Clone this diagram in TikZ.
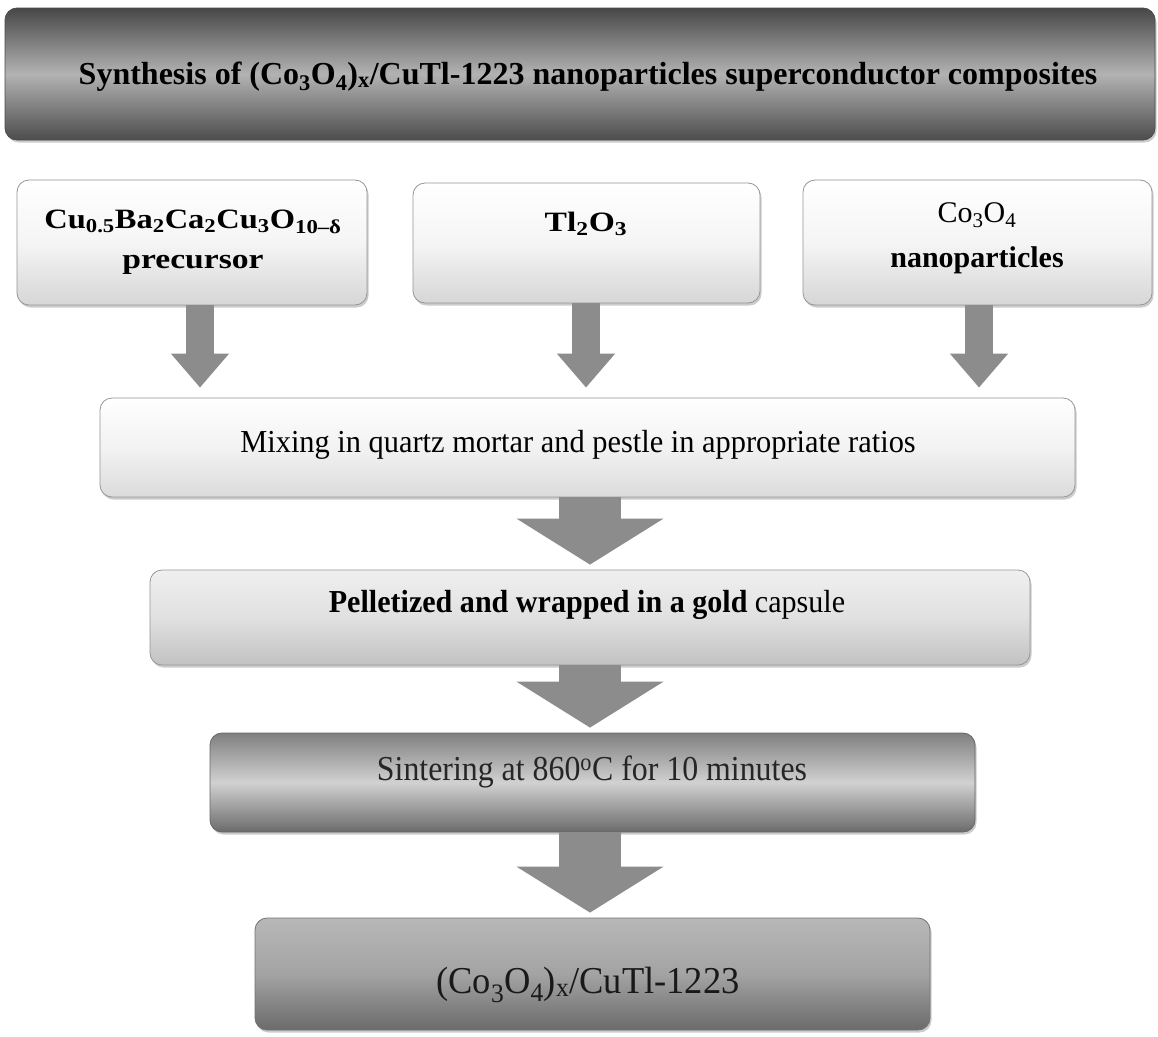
\documentclass[tikz,border=0pt]{standalone}
\usepackage{fontspec}
\setmainfont{Liberation Serif}
\usetikzlibrary{arrows.meta,shadows}
\definecolor{arrowgray}{RGB}{140,140,140}
\definecolor{edgegray}{RGB}{150,150,150}
\begin{document}
\begin{tikzpicture}[x=1pt,y=-1pt,
  box/.style={rounded corners=12pt, inner sep=0pt, draw=edgegray, line width=0.8pt,
    drop shadow={shadow xshift=1.5pt,shadow yshift=-2.5pt,fill=black!40}},
  lightbox/.style={box, top color=white, bottom color=black!16, middle color=black!4},
  mixbox/.style={box, top color=white, bottom color=black!14, middle color=black!5},
  pelbox/.style={box, top color=black!6, bottom color=black!24, middle color=black!12},
  titlebox/.style={box, draw=black!70, top color=black!72, bottom color=black!70, middle color=black!30},
  sinbox/.style={box, draw=black!60, top color=black!50, bottom color=black!58, middle color=black!18},
  finbox/.style={box, draw=black!55, top color=black!28, bottom color=black!58, middle color=black!36},
  txt/.style={inner sep=0pt, align=center, text=black},
  smallarrow/.style={draw=arrowgray, line width=28pt, -{Triangle[width=56pt,length=34pt]}, shorten >=10pt},
  bigarrow/.style={draw=arrowgray, line width=62pt, -{Triangle[width=145pt,length=46pt]}, shorten >=5pt}
]
\useasboundingbox[fill=white] (0,0) rectangle (1158,1036);

% boxes
\node[titlebox, minimum width=1150pt, minimum height=132pt] (title) at (580,74) {};
\node[lightbox, minimum width=350pt, minimum height=125pt] (prec) at (192,242.5) {};
\node[lightbox, minimum width=347pt, minimum height=120pt] (tl) at (586.5,243) {};
\node[lightbox, minimum width=349pt, minimum height=125pt] (co) at (977.5,242.5) {};
\node[mixbox, minimum width=975pt, minimum height=99pt] (mix) at (587.5,447.5) {};
\node[pelbox, minimum width=880pt, minimum height=95pt] (pel) at (590,617.5) {};
\node[sinbox, minimum width=765pt, minimum height=99pt] (sin) at (592.5,782.5) {};
\node[finbox, minimum width=675pt, minimum height=112pt] (fin) at (592.5,974) {};

% texts
\node[txt, anchor=base, font=\fontsize{32}{36}\selectfont\bfseries] (titletxt) at (588,84)
  {Synthesis of (Co\textsubscript{3}O\textsubscript{4})\textsubscript{x}/CuTl-1223 nanoparticles superconductor composites};
\node[txt, font=\fontsize{28}{40}\selectfont\bfseries] (prectxt) at (193,242)
  {\scalebox{1.16}[1]{Cu\textsubscript{0.5}Ba\textsubscript{2}Ca\textsubscript{2}Cu\textsubscript{3}O\textsubscript{10–δ}}\\
   \scalebox{1.2}[1]{precursor}};
\node[txt, font=\fontsize{28}{40}\selectfont\bfseries] (tltxt) at (586,224)
  {\scalebox{1.2}[1]{Tl\textsubscript{2}O\textsubscript{3}}};
\node[txt, font=\fontsize{30}{45}\selectfont] (cotxt) at (977,238)
  {Co\textsubscript{3}O\textsubscript{4}\\ \textbf{nanoparticles}};
\node[txt, font=\fontsize{32}{36}\selectfont] (mixtxt) at (578,445)
  {\scalebox{0.95}[1]{Mixing in quartz mortar and pestle in appropriate ratios}};
\node[txt, font=\fontsize{32}{36}\selectfont] (peltxt) at (587,605)
  {\scalebox{0.94}[1]{\textbf{Pelletized and wrapped in a gold} capsule}};
\node[txt, anchor=base, font=\fontsize{35}{40}\selectfont, text=black!85] (sintxt) at (592,780)
  {\scalebox{0.91}[1]{Sintering at 860\textsuperscript{o}C for 10 minutes}};
\node[txt, anchor=base, font=\fontsize{38}{42}\selectfont, text=black!90] (fintxt) at (588,993)
  {\scalebox{0.96}[1]{(Co\textsubscript{3}O\textsubscript{4})\textsubscript{x}/CuTl-1223}};

% arrow axes
\coordinate (ax1) at (200,0);
\coordinate (ax2) at (586,0);
\coordinate (ax3) at (979,0);
\coordinate (axc) at (590,0);

\draw[smallarrow] (prec.south -| ax1) -- (mix.north -| ax1);
\draw[smallarrow] (tl.south -| ax2) -- (mix.north -| ax2);
\draw[smallarrow] (co.south -| ax3) -- (mix.north -| ax3);
\draw[bigarrow] (mix.south -| axc) -- (pel.north -| axc);
\draw[bigarrow] (pel.south -| axc) -- (sin.north -| axc);
\draw[bigarrow] (sin.south -| axc) -- (fin.north -| axc);
\end{tikzpicture}
\end{document}
